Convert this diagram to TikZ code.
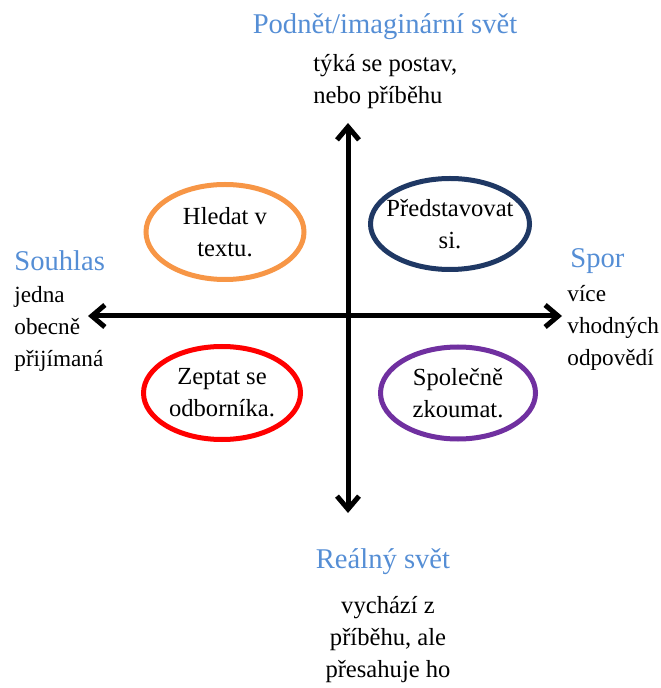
\documentclass[tikz,border=0pt]{standalone}
\usepackage{fontspec}
\setmainfont{Liberation Serif}
\usetikzlibrary{arrows.meta}
\definecolor{titul}{HTML}{558ED5}
\definecolor{oranzova}{HTML}{F79646}
\definecolor{tmavemodra}{HTML}{1F3864}
\definecolor{fialova}{HTML}{7030A0}
\begin{document}
\begin{tikzpicture}[x=0.5pt,y=-0.5pt,
  osa/.style={line width=2.5pt,{Straight Barb[length=6.5pt,width=11pt]}-{Straight Barb[length=6.5pt,width=11pt]}},
  nadpis/.style={text=titul,font=\fontsize{14.3}{17}\selectfont,inner sep=0pt},
  popis/.style={font=\fontsize{12.3}{16}\selectfont,inner sep=0pt},
  bok/.style={font=\fontsize{11.6}{16}\selectfont,inner sep=0pt,align=left,anchor=west}]
\useasboundingbox (0,0) rectangle (660,688);
% osy
\coordinate (nahore) at (348,123);
\coordinate (dole) at (348,513);
\coordinate (vlevo) at (88,316);
\coordinate (vpravo) at (562,316);
\draw[osa] (dole) -- (nahore);
\draw[osa] (vlevo) -- (vpravo);
% popisky os
\node[nadpis] (podnet) at (385,27) {Podnět/imaginární svět};
\node[bok,font=\fontsize{12.3}{16}\selectfont] (podnetText) at (313,82) {týká se postav,\\nebo příběhu};
\node[nadpis,anchor=west] (souhlas) at (14,261) {Souhlas};
\node[bok] (souhlasText) at (14,329) {jedna\\obecně\\přijímaná};
\node[nadpis,anchor=west] (spor) at (570,261) {Spor};
\node[bok] (sporText) at (567,328) {více\\vhodných\\odpovědí};
\node[nadpis] (realny) at (383,562) {Reálný svět};
\node[popis,align=center] (realnyText) at (388,640) {vychází z\\příběhu, ale\\přesahuje ho};
% elipsy
\node[popis,align=center] (hledat) at (225,232) {Hledat v\\textu.};
\draw[line width=2.5pt,oranzova] (hledat.center) ellipse [x radius=39.5pt,y radius=23.75pt];
\node[popis,align=center] (predstavovat) at (450,224) {Představovat\\si.};
\draw[line width=2.5pt,tmavemodra] (predstavovat.center) ellipse [x radius=39.75pt,y radius=22.75pt];
\node[popis,align=center] (zeptat) at (222,393) {Zeptat se\\odborníka.};
\draw[line width=2.5pt,red] (zeptat.center) ellipse [x radius=39.25pt,y radius=23.25pt];
\node[popis,align=center] (zkoumat) at (458,393) {Společně\\zkoumat.};
\draw[line width=2.5pt,fialova] (zkoumat.center) ellipse [x radius=38.75pt,y radius=23pt];
\end{tikzpicture}
\end{document}
